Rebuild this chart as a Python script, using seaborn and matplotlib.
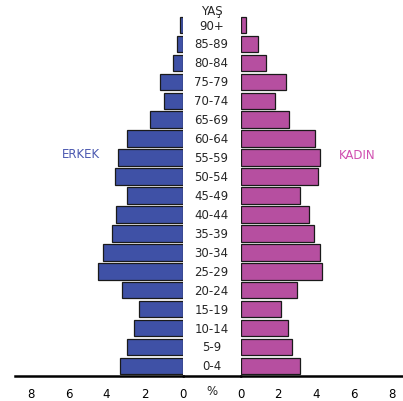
import numpy as np
import pandas as pd
import matplotlib
matplotlib.use("Agg")
import matplotlib.pyplot as plt
import seaborn as sns
from matplotlib.lines import Line2D

# Age groups, top to bottom
ages = ["90+", "85-89", "80-84", "75-79", "70-74", "65-69", "60-64", "55-59",
        "50-54", "45-49", "40-44", "35-39", "30-34", "25-29", "20-24",
        "15-19", "10-14", "5-9", "0-4"]
erkek = [0.15, 0.3, 0.5, 1.2, 1.0, 1.7, 2.9, 3.4, 3.55, 2.9,
         3.5, 3.7, 4.2, 4.45, 3.2, 2.3, 2.55, 2.9, 3.3]
kadin = [0.3, 0.9, 1.35, 2.4, 1.8, 2.55, 3.95, 4.2, 4.1, 3.15,
         3.65, 3.9, 4.2, 4.3, 3.0, 2.15, 2.5, 2.75, 3.15]
ticks = [0, 2, 4, 6, 8]

blue = "#3F51A6"
pink = "#B64FA0"

df = pd.DataFrame({"yas": ages, "erkek": erkek, "kadin": kadin})

sns.set_style("white")
plt.rcParams['font.family'] = ['DejaVu Sans']

W, H = 403, 402
fig = plt.figure(figsize=(W / 100, H / 100), dpi=100)

# pixel layout
y_bot, y_top = 376.5, 8
lz, rz = 182.5, 240.5
ppu = 19.0
bot = (H - y_bot) / H
hgt = (y_bot - y_top) / H
ax_l = fig.add_axes([15 / W, bot, (lz - 15) / W, hgt])
ax_r = fig.add_axes([rz / W, bot, (W - rz) / W, hgt])

row = 18.94
ylim = (18 + (y_bot - 367) / row, -(26 - y_top) / row)

sns.barplot(data=df, x="erkek", y="yas", order=ages, color=blue, ax=ax_l,
            width=0.87, edgecolor="#1a1a1a", linewidth=0.9, saturation=1)
sns.barplot(data=df, x="kadin", y="yas", order=ages, color=pink, ax=ax_r,
            width=0.87, edgecolor="#1a1a1a", linewidth=0.9, saturation=1)

ax_l.set_xlim((lz - 15) / ppu, 0)
ax_r.set_xlim(0, (W - rz) / 18.9)

for ax in (ax_l, ax_r):
    ax.set_ylim(*ylim)
    ax.set_xlabel("")
    ax.set_ylabel("")
    ax.set_yticks([])
    ax.set_xticks(ticks)
    ax.set_xticklabels([str(t) for t in ticks], fontsize=8.5)
    ax.tick_params(axis="x", direction="out", length=5, width=1.8,
                   pad=3, colors="black")
    for s in ("top", "left", "right"):
        ax.spines[s].set_visible(False)
    ax.spines["bottom"].set_linewidth(1.8)
    ax.spines["bottom"].set_color("black")
    ax.patch.set_alpha(0)

# continuous baseline through the middle gap
yl = bot
fig.add_artist(Line2D([lz / W, rz / W], [yl, yl], color="black",
                      linewidth=1.8, transform=fig.transFigure))

# age labels in the middle
for i, a in enumerate(ages):
    yp = 26 + i * row
    fig.text(211.5 / W, 1 - yp / H, a, ha="center", va="center", fontsize=8.5)
fig.text(211.5 / W, 1 - 11 / H, "YAŞ", ha="center", va="center", fontsize=8.5)
fig.text(212 / W, 1 - 392 / H, "%", ha="center", va="center", fontsize=8.5)

fig.text(81 / W, 1 - 155 / H, "ERKEK", ha="center", va="center",
         fontsize=8.5, color="#4A58B0")
fig.text(357 / W, 1 - 156 / H, "KADIN", ha="center", va="center",
         fontsize=8.5, color="#D04FB0")

fig.savefig("out.png", dpi=100, facecolor="white")
